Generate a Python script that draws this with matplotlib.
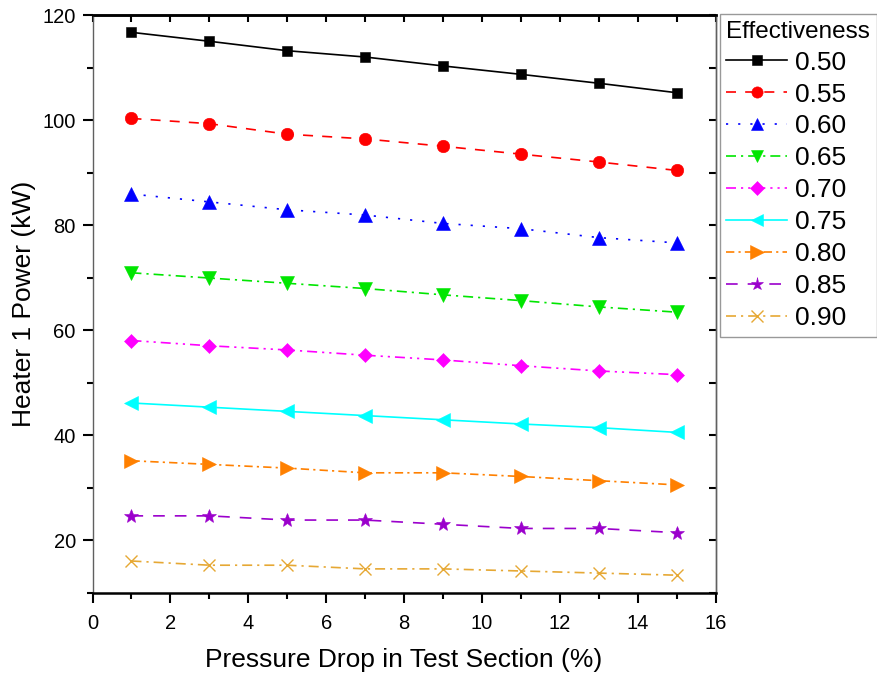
import numpy as np
import matplotlib.pyplot as plt
from matplotlib.ticker import MultipleLocator

plt.rcParams['font.family'] = ['Liberation Sans', 'DejaVu Sans']

# pressure drop in the test section (%)
pressure_drop = [1, 3, 5, 7, 9, 11, 13, 15]

effectiveness = ["0.50", "0.55", "0.60", "0.65", "0.70", "0.75", "0.80", "0.85", "0.90"]

# heater 1 power (kW) for each effectiveness
power_050 = [116.7, 115.0, 113.2, 112.0, 110.3, 108.7, 107.0, 105.2]
power_055 = [100.3, 99.3, 97.3, 96.4, 95.0, 93.5, 92.0, 90.4]
power_060 = [85.9, 84.4, 82.9, 81.9, 80.3, 79.3, 77.6, 76.6]
power_065 = [70.9, 69.9, 68.9, 67.9, 66.7, 65.6, 64.4, 63.4]
power_070 = [58.0, 57.0, 56.2, 55.2, 54.3, 53.2, 52.2, 51.5]
power_075 = [46.1, 45.3, 44.5, 43.7, 42.9, 42.1, 41.4, 40.5]
power_080 = [35.1, 34.4, 33.7, 32.8, 32.8, 32.1, 31.3, 30.5]
power_085 = [24.6, 24.6, 23.8, 23.8, 23.0, 22.2, 22.2, 21.4]
power_090 = [16.0, 15.2, 15.2, 14.5, 14.5, 14.1, 13.7, 13.3]

series = [power_050, power_055, power_060, power_065, power_070,
          power_075, power_080, power_085, power_090]

colors = ['black', '#ff0000', '#0000ff', '#00e600', '#ff00ff',
          '#00ffff', '#ff8000', '#9b00cc', '#e6a834']
markers = ['s', 'o', '^', 'v', 'D', '<', '>', '*', 'x']
msizes = [7.6, 9, 10, 10, 7.5, 9.5, 10.5, 10.5, 9]
styles = ['-', (0, (6, 5.5)), (0, (1.3, 6)), (0, (6, 3, 1.3, 3)),
          (0, (6, 3, 1.3, 3, 1.3, 3)), '-', (0, (5, 2.5, 1.3, 2.5)),
          (0, (7, 6)), (0, (6, 3, 1.3, 3))]

fig = plt.figure(figsize=(8.77, 6.73), dpi=100)
ax = fig.add_axes([0.1055, 0.1196, 0.7104, 0.8581])

for vals, lab, c, m, ms, ls in zip(series, effectiveness, colors, markers, msizes, styles):
    ax.plot(pressure_drop, vals, color=c, marker=m, markersize=ms, linestyle=ls,
            linewidth=1.2, label=lab, markeredgewidth=1.0 if m == 'x' else 0.4)

ax.set_xlim(0, 16)
ax.set_ylim(10, 120)
ax.xaxis.set_major_locator(MultipleLocator(2))
ax.xaxis.set_minor_locator(MultipleLocator(1))
ax.yaxis.set_major_locator(MultipleLocator(20))
ax.yaxis.set_minor_locator(MultipleLocator(10))
ax.tick_params(which='major', direction='out', length=7, width=1.5, labelsize=14.5)
ax.tick_params(axis='x', which='major', pad=8.5)
ax.tick_params(axis='y', which='major', pad=5)
ax.tick_params(which='minor', direction='out', length=4, width=1.5)

# inward ticks on the top and right edges
top = ax.secondary_xaxis('top')
top.xaxis.set_major_locator(MultipleLocator(1))
top.tick_params(direction='in', length=5, width=1.5, labeltop=False)
right = ax.secondary_yaxis('right')
right.yaxis.set_major_locator(MultipleLocator(10))
right.tick_params(direction='in', length=5, width=1.5, labelright=False)

for name in ['top', 'bottom']:
    ax.spines[name].set_linewidth(1.8)
    top.spines[name].set_linewidth(1.8)
for name in ['left', 'right']:
    ax.spines[name].set_color('#606060')
    ax.spines[name].set_linewidth(1.0)
right.spines['right'].set_color('#606060')
right.spines['right'].set_linewidth(1.0)

ax.set_xlabel("Pressure Drop in Test Section (%)", fontsize=19, labelpad=11)
ax.set_ylabel("Heater 1 Power (kW)", fontsize=19, labelpad=5)

leg = ax.legend(title="Effectiveness", loc='upper left', bbox_to_anchor=(0.8205, 0.979),
                bbox_transform=fig.transFigure, fontsize=19, title_fontsize=17.5,
                alignment='left', frameon=True, fancybox=False, edgecolor='#808080',
                handlelength=2.3, handletextpad=0.3, labelspacing=0.3,
                borderpad=0.25, borderaxespad=0, markerscale=0.9)
leg.get_frame().set_linewidth(1.0)

fig.savefig("out.png", dpi=100)
